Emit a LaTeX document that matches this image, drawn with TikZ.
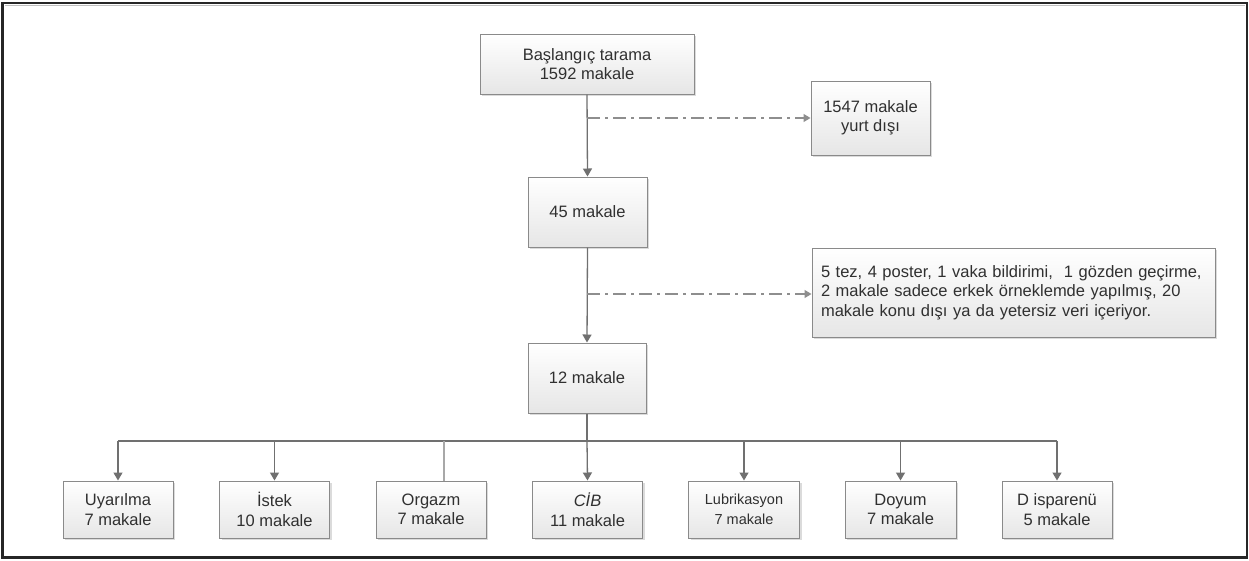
\documentclass[tikz,border=0pt]{standalone}
\usepackage{fontspec}
\setmainfont{Liberation Sans}
\usetikzlibrary{arrows.meta,shadows,calc}
\definecolor{txt}{HTML}{303030}
\definecolor{boxline}{HTML}{8A8A8A}
\definecolor{boxbot}{HTML}{E6E6E6}
\definecolor{conn}{HTML}{707070}
\definecolor{dashc}{HTML}{8E8E8E}
\definecolor{orgc}{HTML}{A8A8A8}
\tikzset{
  box/.style={draw=boxline, line width=1pt, shading=axis, top color=white, bottom color=boxbot,
    drop shadow={shadow xshift=2pt, shadow yshift=-2pt, fill=black!14, opacity=1},
    inner sep=0pt, align=center, text=txt, font=\fontsize{16.5}{19.5}\selectfont},
  flow/.style={draw=conn, line width=1.3pt, -{Triangle[width=9pt,length=8pt]}},
  plain/.style={draw=conn, line width=1.3pt},
  side/.style={draw=dashc, line width=1.3pt, dash pattern=on 13pt off 5pt on 3pt off 5pt,
    -{Triangle[width=8pt,length=7pt]}},
}
\begin{document}
\begin{tikzpicture}[x=1pt,y=-1pt]
\useasboundingbox (0,0) rectangle (1249,560);
\fill[white] (0,0) rectangle (1249,560);
\draw[black!85, line width=2.2pt] (2.5,3) rectangle (1247,557.5);
\draw[black!25, line width=0.8pt] (4.6,5.1) -- (1245,5.1);

\node[box, minimum width=214pt, minimum height=60pt] (top) at (587,64) {Başlangıç tarama\\1592 makale};
\node[box, minimum width=119pt, minimum height=74pt] (yd) at (870.5,118) {1547 makale\\yurt dışı};
\node[box, minimum width=119pt, minimum height=70pt] (n45) at (587.5,212) {45 makale};
\node[box, minimum width=403pt, minimum height=89pt, align=left, text width=385pt] (ex) at (1013.5,292.5)
  {5 tez, 4 poster, 1 vaka bildirimi, \ 1 gözden geçirme,\\2 makale sadece erkek örneklemde yapılmış, 20\\makale konu dışı ya da yetersiz veri içeriyor.};
\node[box, minimum width=118pt, minimum height=70pt] (n12) at (587,378) {12 makale};

\node[box, minimum width=110pt, minimum height=57pt] (uy) at (118,509.5) {Uyarılma\\7 makale};
\node[box, minimum width=110pt, minimum height=57pt] (is) at (274.5,509.5) {İstek\\10 makale};
\node[box, minimum width=110pt, minimum height=57pt] (org) at (431,509.5) {Orgazm\\7 makale};
\node[box, minimum width=110pt, minimum height=57pt] (cib) at (587.5,509.5) {\textit{CİB}\\11 makale};
\node[box, minimum width=111pt, minimum height=57pt, font=\fontsize{14.5}{19.5}\selectfont] (lub) at (744,509.5) {Lubrikasyon\\7 makale};
\node[box, minimum width=111pt, minimum height=57pt] (doy) at (900.5,509.5) {Doyum\\7 makale};
\node[box, minimum width=110pt, minimum height=57pt] (dis) at (1057,509.5) {D isparenü\\5 makale};

\coordinate (d1) at (587,118);
\coordinate (d2) at (587,294);
\coordinate (hub) at (587,441);
\coordinate (hl) at (118,441);
\coordinate (hr) at (1057,441);

\draw[flow] (top.south) -- (n45.north);
\draw[side] (d1) -- (d1 -| yd.west);
\draw[flow] (n45.south) -- (n12.north);
\draw[side] (d2) -- (d2 -| ex.west);

\draw[plain] (n12.south) -- (hub);
\draw[plain] (hl) -- (hr);
\draw[flow] (hl) -- (uy.north);
\draw[flow] (hl -| is.north) -- (is.north);
\draw[draw=orgc, line width=1.3pt] (444,441) -- (444,481);
\draw[flow] (hub) -- (cib.north);
\draw[flow] (hl -| lub.north) -- (lub.north);
\draw[flow] (hl -| doy.north) -- (doy.north);
\draw[flow] (hr) -- (dis.north);
\end{tikzpicture}
\end{document}
